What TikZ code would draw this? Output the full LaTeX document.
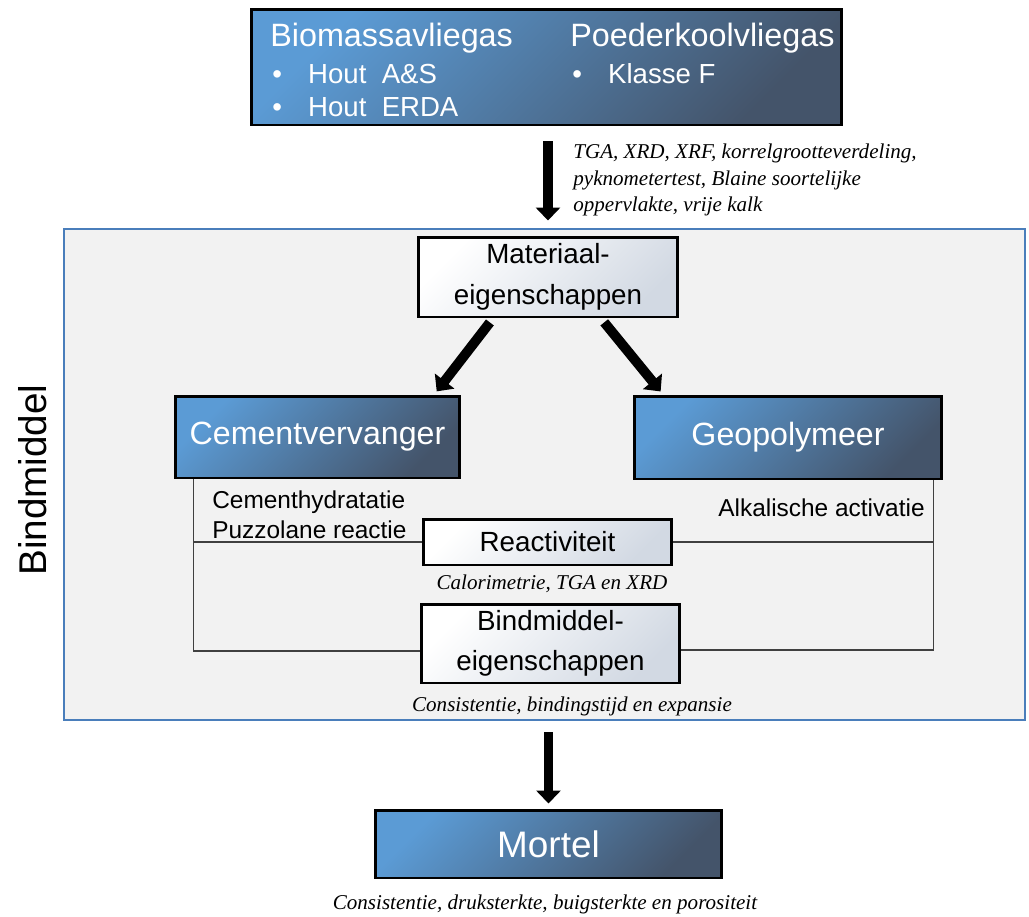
\documentclass[tikz,border=0pt]{standalone}
\usepackage{fontspec}
\setmainfont{Liberation Serif}
\setsansfont{Liberation Sans}
\usetikzlibrary{shapes,arrows.meta}

\definecolor{lightblue}{HTML}{5B9BD5}
\definecolor{slate}{HTML}{44546A}
\definecolor{paleblue}{HTML}{D2D9E3}
\definecolor{framegray}{HTML}{F2F2F2}
\definecolor{frameblue}{HTML}{4A7EBB}
\definecolor{linkgray}{HTML}{404040}

\begin{document}
\begin{tikzpicture}[x=0.02cm,y=-0.02cm,
  darkbox/.style={draw=black,line width=1.7pt,top color=lightblue,bottom color=slate,shading angle=45,text=white,font=\sffamily\fontsize{18.3}{22}\selectfont,inner sep=0pt},
  palebox/.style={draw=black,line width=1.7pt,top color=white,bottom color=paleblue,shading angle=45,font=\sffamily\fontsize{15.8}{23}\selectfont,align=center,inner sep=0pt},
  head/.style={text=white,font=\sffamily\fontsize{18.4}{22}\selectfont,inner sep=0pt,anchor=west},
  item/.style={text=white,font=\sffamily\fontsize{15.7}{19}\selectfont,inner sep=0pt,anchor=west},
  fat/.style={line width=5.6pt,-{Triangle[width=0.48cm,length=0.26cm]}},
  link/.style={draw=linkgray,line width=0.6pt},
  note/.style={font=\itshape\fontsize{12}{15.3}\selectfont,inner sep=0pt},
  side/.style={font=\sffamily\fontsize{13.9}{17}\selectfont,inner sep=0pt,align=left}]
\useasboundingbox (0,0) rectangle (1029,917);

% binder frame
\node[draw=frameblue,fill=framegray,line width=1.2pt,minimum width=19.22cm,minimum height=9.82cm] (frame) at (544.5,474.5) {};
\node[rotate=90,font=\sffamily\fontsize{22}{26}\selectfont] (bmlabel) at (33,480) {Bindmiddel};

% source materials
\node[darkbox,minimum width=11.82cm,minimum height=2.32cm] (src) at (546.5,67) {};
\node[head] (bio) at (270,38) {Biomassavliegas};
\node[head] (pk) at (570,38) {Poederkoolvliegas};
\node[item] (as) at (272,74) {\makebox[20.4pt][l]{\textbullet}Hout\ \ A\&S};
\node[item] (erda) at (272,107) {\makebox[20.4pt][l]{\textbullet}Hout\ \ ERDA};
\node[item] (kf) at (572,74) {\makebox[20.4pt][l]{\textbullet}Klasse F};

\node[note,anchor=west,align=left] (tests) at (573,180) {TGA, XRD, XRF, korrelgrootteverdeling,\\pyknometertest, Blaine soortelijke\\oppervlakte, vrije kalk};

\node[palebox,minimum width=5.2cm,minimum height=1.6cm] (mat) at (548,277) {Materiaal-\\eigenschappen};
\node[darkbox,minimum width=5.7cm,minimum height=1.64cm] (cv) at (317.5,437) {Cementvervanger};
\node[darkbox,minimum width=6.16cm,minimum height=1.66cm] (geo) at (788,437.5) {Geopolymeer};
\node[palebox,minimum width=4.98cm,minimum height=0.92cm] (re) at (547.5,542) {Reactiviteit};
\node[palebox,minimum width=5.18cm,minimum height=1.58cm] (bm) at (550.5,643.5) {Bindmiddel-\\eigenschappen};
\node[darkbox,minimum width=6.94cm,minimum height=1.36cm,font=\sffamily\fontsize{21}{25}\selectfont] (mo) at (548.5,844) {Mortel};

\node[side,anchor=west] (hyd) at (212,515) {Cementhydratatie\\Puzzolane reactie};
\node[side,anchor=east] (alk) at (925,508) {Alkalische activatie};

\node[note] (calo) at (552,584) {Calorimetrie, TGA en XRD};
\node[note] (cons) at (572,706) {Consistentie, bindingstijd en expansie};
\node[note] (mort) at (545,904) {Consistentie, druksterkte, buigsterkte en porositeit};

% links
\draw[link] ([xshift=0.4cm]cv.south west) |- (re.west);
\draw[link] ([xshift=0.4cm]cv.south west) |- ([yshift=-0.15cm]bm.west);
\draw[link] ([xshift=-0.2cm]geo.south east) |- (re.east);
\draw[link] ([xshift=-0.2cm]geo.south east) |- ([yshift=-0.13cm]bm.east);

% arrows
\draw[fat,shorten <=0.3cm,shorten >=0.3cm] (mat |- src.south) -- (mat.north);
\draw[fat,shorten <=0.1cm,shorten >=0.08cm] (mat.217) -- (cv.20);
\draw[fat,shorten <=0.1cm,shorten >=0.08cm] (mat.322) -- (geo.161);
\draw[fat,shorten <=0.96cm,shorten >=0.1cm] (mo |- bm.south) -- (mo.north);
\end{tikzpicture}
\end{document}
